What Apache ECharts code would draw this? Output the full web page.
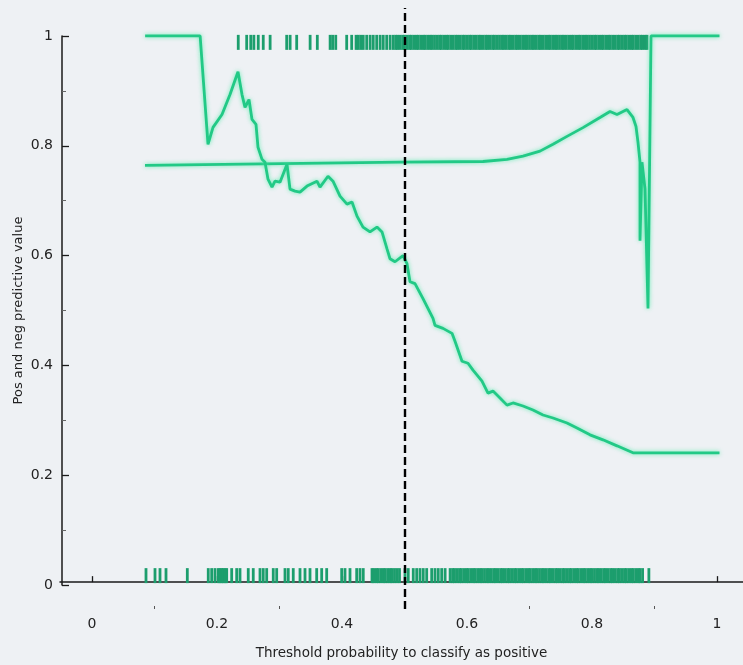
<!DOCTYPE html>
<html>
<head>
<meta charset="utf-8">
<script src="https://cdn.jsdelivr.net/npm/echarts@6/dist/echarts.min.js"></script>
<style>
html,body{margin:0;padding:0;background:#eef1f4;}
#chart{width:743px;height:665px;}
</style>
</head>
<body>
<div id="chart"></div>
<script>
// ---------- data ----------
const xTickValues = [0, 0.2, 0.4, 0.6, 0.8, 1];
const xMinorTickValues = [0.1, 0.3, 0.5, 0.7, 0.9];
const xTickLabels = ['0', '0.2', '0.4', '0.6', '0.8', '1'];
const yTickLabels = ['0', '0.2', '0.4', '0.6', '0.8', '1'];
const threshold = 0.5;

// positive predictive value curve
const ppvX = [0.085, 0.173, 0.1856, 0.1936, 0.208, 0.2208, 0.2336, 0.24, 0.2448, 0.2512, 0.256, 0.2624, 0.2656, 0.272, 0.2768, 0.2816, 0.288, 0.2928, 0.3008, 0.312, 0.3168, 0.3248, 0.3328, 0.344, 0.36, 0.3648, 0.3776, 0.3856, 0.3968, 0.408, 0.416, 0.424, 0.4336, 0.4448, 0.456, 0.464, 0.472, 0.4768, 0.4848, 0.4976, 0.504, 0.5088, 0.5168, 0.5296, 0.5456, 0.5488, 0.5616, 0.576, 0.5808, 0.592, 0.6016, 0.6096, 0.624, 0.6336, 0.6416, 0.6528, 0.664, 0.6736, 0.6896, 0.7056, 0.7216, 0.7376, 0.76, 0.776, 0.7968, 0.8176, 0.84, 0.8656, 1.004];
const ppvY = [1.0, 1.0, 0.8015, 0.8324, 0.856, 0.8925, 0.9344, 0.8925, 0.869, 0.8834, 0.847, 0.838, 0.796, 0.774, 0.7687, 0.7377, 0.7231, 0.734, 0.7322, 0.765, 0.7195, 0.7158, 0.714, 0.725, 0.734, 0.723, 0.743, 0.734, 0.7067, 0.692, 0.696, 0.670, 0.650, 0.641, 0.650, 0.641, 0.610, 0.592, 0.5865, 0.5975, 0.583, 0.55, 0.5464, 0.519, 0.4827, 0.47, 0.4645, 0.4554, 0.4408, 0.4044, 0.4007, 0.388, 0.368, 0.346, 0.3497, 0.337, 0.324, 0.328, 0.3224, 0.315, 0.306, 0.3005, 0.2914, 0.2823, 0.2696, 0.2605, 0.2495, 0.2368, 0.2368];

// negative predictive value curve
const npvX = [0.0848, 0.4928, 0.6256, 0.664, 0.6896, 0.7168, 0.7376, 0.76, 0.7856, 0.8128, 0.8288, 0.84, 0.856, 0.8656, 0.8704, 0.8736, 0.8768, 0.8768, 0.88, 0.8848, 0.8896, 0.8944, 1.004];
const npvY = [0.763, 0.7687, 0.770, 0.774, 0.780, 0.789, 0.8015, 0.816, 0.832, 0.8506, 0.8616, 0.856, 0.865, 0.8506, 0.834, 0.805, 0.7687, 0.625, 0.7687, 0.72, 0.501, 1.0, 1.0];

// rug of observed probabilities (positives on top, negatives on bottom)
const rugTopX = [0.234, 0.2475, 0.254, 0.259, 0.266, 0.274, 0.285, 0.3115, 0.317, 0.3275, 0.349, 0.3605, 0.381, 0.385, 0.390, 0.4075, 0.4155, 0.4225, 0.426, 0.43, 0.434, 0.4395, 0.445, 0.45, 0.4555, 0.461, 0.466, 0.4715, 0.477, 0.482,
  0.486,0.489,0.493,0.497,0.5,0.504,0.508,0.511,0.515,0.519,0.522,0.526,0.53,0.533,0.537,0.541,0.544,0.548,0.552,0.556,0.559,0.563,0.567,0.57,0.574,0.578,0.582,0.585,0.589,0.593,0.596,0.6,0.604,0.607,0.611,0.615,0.619,0.622,0.626,0.63,0.633,0.637,0.641,0.644,0.648,0.652,0.656,0.659,0.663,0.667,0.67,0.674,0.678,0.681,0.685,0.689,0.693,0.696,0.7,0.704,0.707,0.711,0.715,0.718,0.722,0.726,0.73,0.733,0.737,0.741,0.744,0.748,0.752,0.755,0.759,0.763,0.767,0.77,0.774,0.778,0.781,0.785,0.789,0.792,0.796,0.8,0.804,0.807,0.811,0.815,0.818,0.822,0.826,0.829,0.833,0.837,0.841,0.844,0.848,0.852,0.855,0.859,0.863,0.866,0.87,0.874,0.878,0.881,0.885,0.888];
const rugBottomX = [0.0864, 0.1008, 0.1088, 0.1184, 0.1525, 0.186, 0.1915, 0.1968, 0.202, 0.2048, 0.2075, 0.21, 0.2128, 0.2155, 0.2235, 0.2315, 0.2368, 0.25, 0.258, 0.2688, 0.274, 0.2795, 0.29, 0.2955, 0.3088, 0.314, 0.322, 0.3328, 0.3408, 0.3488, 0.3595, 0.3675, 0.3755, 0.3995, 0.4048, 0.4128, 0.4235, 0.4288, 0.434,
  0.448,0.451,0.455,0.458,0.462,0.466,0.469,0.473,0.477,0.48,0.484,0.488,0.492,
  0.5008, 0.506, 0.514, 0.5195, 0.5248, 0.53, 0.5355, 0.5435, 0.5488, 0.554, 0.5595, 0.565,
  0.573,0.577,0.58,0.584,0.588,0.591,0.595,0.599,0.602,0.606,0.61,0.613,0.617,0.621,0.624,0.628,0.632,0.635,0.639,0.643,0.646,0.65,0.654,0.657,0.661,0.665,0.668,0.672,0.676,0.679,0.683,0.687,0.69,0.694,0.698,0.701,0.705,0.709,0.712,0.716,0.72,0.723,0.727,0.731,0.734,0.738,0.742,0.745,0.749,0.753,0.756,0.76,0.764,0.767,0.771,0.775,0.778,0.782,0.786,0.789,0.793,0.797,0.8,0.804,0.808,0.811,0.815,0.819,0.822,0.826,0.83,0.833,0.837,0.841,0.844,0.848,0.852,0.855,0.859,0.863,0.866,0.87,0.874,0.877,0.881,
  0.891];

// ---------- chart ----------
const FONT = 'DejaVu Sans';
const lineColor = '#22c986';
const rugColor = '#1c9e6d';
const axisColor = '#1a1a1a';

const zip = (xs, ys) => xs.map((x, i) => [x, ys[i]]);

const chart = echarts.init(document.getElementById('chart'), null, {renderer: 'canvas'});

const lineStyle = {
  color: lineColor, width: 2.8,
  shadowColor: 'rgba(70,235,165,0.8)', shadowBlur: 4
};

chart.setOption({
  backgroundColor: '#eef1f4',
  animation: false,
  grid: [
    {left: 60, right: 0, top: 8, bottom: 53},
    {left: 62, top: 36, height: 549, width: 20}
  ],
  xAxis: [
    {
      gridIndex: 0, type: 'value', min: -0.0512, max: 1.0416, position: 'bottom',
      name: 'Threshold probability to classify as positive',
      nameLocation: 'middle', nameGap: 37,
      nameTextStyle: {fontFamily: FONT, fontSize: 13.5, color: '#222'},
      axisLine: {show: true, lineStyle: {color: axisColor, width: 1.5}},
      axisTick: {show: true, inside: true, length: 6, customValues: xTickValues, lineStyle: {color: axisColor, width: 1.3}},
      axisLabel: {show: true, customValues: xTickValues, margin: 8, fontFamily: FONT, fontSize: 14, color: '#222',
        formatter: v => xTickLabels[xTickValues.indexOf(Math.round(v * 10) / 10)] ?? ''},
      splitLine: {show: false}
    },
    {
      gridIndex: 0, type: 'value', min: -0.0512, max: 1.0416, position: 'bottom', offset: 0,
      axisLine: {show: false},
      axisTick: {show: true, inside: true, length: 3, customValues: xMinorTickValues, lineStyle: {color: '#555', width: 1}},
      axisLabel: {show: false},
      splitLine: {show: false}
    },
    {gridIndex: 1, type: 'value', show: false, min: 0, max: 1}
  ],
  yAxis: [
    {gridIndex: 0, type: 'value', show: false, min: -0.04918, max: 1.051},
    {
      gridIndex: 1, type: 'value', min: 0, max: 1, interval: 0.2, position: 'left',
      name: 'Pos and neg predictive value', nameLocation: 'middle', nameGap: 37, nameRotate: 90,
      nameTextStyle: {fontFamily: FONT, fontSize: 13, color: '#222'},
      axisLine: {show: true, lineStyle: {color: axisColor, width: 1.5}},
      axisTick: {show: true, inside: true, length: 7, lineStyle: {color: axisColor, width: 1.3}},
      minorTick: {show: true, splitNumber: 2, length: 4, lineStyle: {color: '#666', width: 1}},
      axisLabel: {margin: 9, fontFamily: FONT, fontSize: 14, color: '#222',
        formatter: v => yTickLabels[Math.round(v * 5)]},
      splitLine: {show: false}
    }
  ],
  series: [
    {
      type: 'scatter', xAxisIndex: 0, yAxisIndex: 0,
      data: rugTopX.map(x => [x, 1]),
      symbol: 'rect', symbolSize: [2.8, 15], symbolOffset: [0, 6.5],
      itemStyle: {color: rugColor, opacity: 1}, silent: true
    },
    {
      type: 'scatter', xAxisIndex: 0, yAxisIndex: 0,
      data: rugBottomX.map(x => [x, 0]),
      symbol: 'rect', symbolSize: [2.8, 15], symbolOffset: [0, -6.5],
      itemStyle: {color: rugColor, opacity: 1}, silent: true
    },
    {
      type: 'line', xAxisIndex: 0, yAxisIndex: 0,
      data: zip(npvX, npvY), showSymbol: false, lineStyle: lineStyle
    },
    {
      type: 'line', xAxisIndex: 0, yAxisIndex: 0,
      data: zip(ppvX, ppvY), showSymbol: false, lineStyle: lineStyle,
      markLine: {
        silent: true, symbol: 'none', label: {show: false},
        lineStyle: {color: '#000', type: [8, 4], width: 2.4},
        data: [{xAxis: threshold}]
      }
    }
  ]
});
</script>
</body>
</html>
